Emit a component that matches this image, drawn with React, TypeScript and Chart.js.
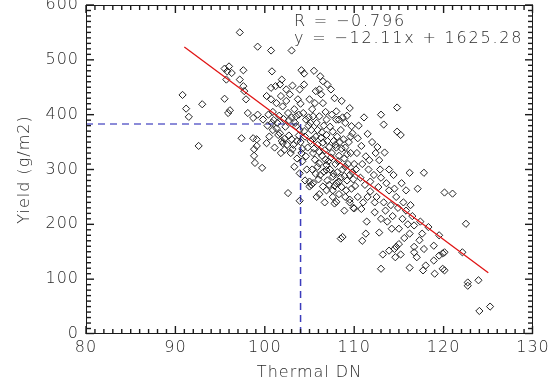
import React, { useEffect, useRef } from "react";
import { Chart, registerables } from "chart.js";

Chart.register(...registerables);

// ---- Data ----
// Samples grouped by Thermal DN band; each dn* array pairs with its yield* array.
const dn90s = [90.8, 91.2, 91.5, 93.0, 92.6];
const yield90s = [436, 411, 396, 419, 343];

const dn95s = [
  95.5, 95.8, 96.3, 95.7, 95.5, 95.9, 96.0, 96.1,
  97.2, 97.6, 97.2, 97.6, 97.7, 97.9, 98.1, 98.7,
  99.2, 99.8, 99.2, 97.4, 98.7, 99.1, 99.1, 98.8,
  98.8, 98.9, 99.7,
];
const yield95s = [
  484, 479, 476, 464, 429, 403, 488, 408,
  550, 481, 464, 452, 443, 428, 403, 394,
  400, 391, 524, 357, 357, 343, 355, 337,
  325, 312, 303,
];

const dn100s = [
  100.7, 103.0, 100.8, 101.9, 100.7, 101.2, 101.7, 102.4,
  100.2, 100.7, 101.3, 101.8, 104.1, 104.4, 103.1, 103.9,
  102.8, 103.7, 102.0, 102.6, 103.5, 104.3, 104.6, 100.9,
  101.5, 102.0, 103.9, 100.2, 101.7, 102.2, 103.1, 103.3,
  103.9, 102.6, 103.9, 104.6, 103.5, 104.4, 100.4, 101.0,
  101.4, 102.3, 102.7, 103.0, 101.9, 102.5, 102.9, 101.8,
  103.6, 104.0, 104.5, 104.8, 104.2, 100.5, 101.1, 104.7,
  104.5, 100.3, 102.1, 103.3, 104.0, 100.9, 101.6, 102.4,
  103.4, 104.9, 104.9, 102.2, 103.8, 104.2, 103.0, 103.8,
  102.7, 104.4, 103.6, 104.1, 103.2, 101.3, 100.8,
];
const yield100s = [
  517, 517, 479, 464, 449, 452, 455, 446,
  434, 428, 421, 434, 481, 475, 453, 446,
  437, 428, 415, 403, 397, 403, 391, 372,
  363, 348, 372, 348, 366, 336, 337, 305,
  293, 257, 243, 324, 379, 455, 400, 390,
  385, 378, 362, 355, 352, 345, 330, 330,
  320, 350, 360, 340, 315, 360, 340, 300,
  280, 380, 392, 410, 420, 405, 398, 425,
  385, 380, 395, 356, 362, 338, 395, 400,
  390, 370, 352, 330, 345, 375, 385,
];

const dn105s = [
  106.5, 105.7, 107.4, 106.1, 105.0, 105.6, 106.5, 108.0,
  109.5, 105.4, 106.1, 106.9, 108.0, 108.5, 109.7, 105.2,
  105.7, 106.9, 107.6, 105.0, 105.4, 105.0, 106.5, 106.9,
  107.6, 108.0, 105.4, 106.1, 106.9, 107.6, 108.0, 105.4,
  106.5, 107.2, 106.3, 108.3, 109.8, 105.2, 107.8, 108.5,
  108.7, 105.5, 106.2, 107.0, 107.8, 108.6, 109.2, 109.0,
  105.8, 106.6, 107.3, 108.1, 108.8, 109.4, 105.9, 106.7,
  107.5, 108.3, 109.0, 109.6, 105.6, 106.4, 107.1, 107.9,
  108.7, 109.3, 109.8, 105.3, 106.2, 107.0, 107.8, 108.5,
  109.2, 109.7, 105.8, 106.7, 108.3, 109.0, 109.5, 108.9,
  109.9, 108.4, 107.7, 106.3, 105.1, 106.8, 108.9, 109.5,
  107.3, 108.1, 105.7, 106.9, 108.6, 109.1, 106.1, 107.6,
  105.1, 105.9, 106.4, 107.0, 107.9, 108.6, 109.2, 105.5,
  106.1, 107.4, 108.2, 109.0, 105.9, 106.6, 107.7, 108.9,
  109.9, 106.0, 107.2, 108.3, 105.3, 106.8, 107.5, 108.7,
  109.6, 108.0, 109.5, 110.0,
];
const yield105s = [
  461, 443, 446, 446, 428, 421, 421, 406,
  412, 397, 397, 391, 391, 372, 379, 372,
  360, 363, 369, 278, 275, 269, 269, 262,
  250, 241, 330, 311, 299, 287, 275, 355,
  349, 341, 437, 391, 366, 272, 238, 174,
  177, 480, 470, 455, 430, 425, 398, 385,
  385, 380, 378, 360, 355, 350, 345, 335,
  330, 325, 340, 330, 318, 325, 315, 310,
  300, 310, 295, 300, 290, 280, 270, 285,
  280, 265, 250, 240, 255, 250, 240, 225,
  230, 350, 352, 358, 352, 318, 320, 290,
  300, 295, 292, 308, 268, 262, 255, 262,
  385, 372, 368, 352, 345, 338, 328, 338,
  332, 322, 315, 305, 305, 296, 292, 288,
  282, 282, 272, 278, 410, 405, 400, 395,
  360, 340, 245, 229,
];

const dn110s = [
  113.0, 114.8, 111.1, 113.3, 114.8, 115.2, 110.4, 110.8,
  112.6, 113.4, 113.9, 112.8, 111.7, 111.3, 111.3, 113.0,
  113.2, 113.9, 114.5, 114.7, 110.5, 111.5, 112.0, 112.4,
  110.3, 110.9, 111.6, 112.2, 113.0, 113.6, 114.4, 110.2,
  110.7, 111.2, 111.8, 112.5, 113.3, 114.1, 114.7, 110.4,
  111.0, 112.3, 113.0, 113.7, 114.3, 111.4, 112.8, 114.2,
  110.9, 114.6, 111.8, 112.7, 113.9, 110.1, 112.9, 110.8,
  112.3, 113.5, 114.5, 111.5, 114.9, 110.0,
];
const yield110s = [
  400, 413, 395, 382, 369, 363, 357, 343,
  341, 331, 300, 317, 317, 324, 183, 119,
  145, 152, 155, 159, 380, 365, 350, 330,
  330, 310, 300, 290, 285, 275, 290, 300,
  285, 272, 260, 250, 240, 235, 250, 250,
  240, 222, 210, 205, 215, 205, 185, 192,
  170, 140, 278, 268, 262, 270, 300, 228,
  240, 225, 265, 250, 230, 310,
];

const dn115s = [
  115.8, 117.1, 116.3, 116.7, 116.2, 116.7, 116.7, 117.8,
  117.3, 117.6, 116.2, 117.7, 118.9, 118.9, 119.5, 119.9,
  120.1, 119.5, 119.9, 120.1, 116.2, 117.8, 115.0, 115.0,
  115.5, 115.4, 115.8, 116.5, 117.4, 118.3, 115.3, 115.6,
  117.0, 118.0, 119.0, 115.2, 116.0,
];
const yield115s = [
  262, 265, 235, 198, 183, 159, 149, 155,
  171, 183, 121, 116, 161, 134, 143, 147,
  149, 180, 119, 116, 294, 294, 192, 164,
  240, 210, 225, 215, 205, 195, 275, 175,
  140, 125, 110, 145, 200,
];

const dn120s = [120.1, 121.0, 122.5, 122.1, 122.7, 122.7, 123.9, 124.0, 125.2];
const yield120s = [258, 256, 201, 149, 94, 88, 98, 42, 50];

// Least-squares fit printed on the chart
const fitSlope = -12.11;
const fitIntercept = 1625.28;
const fitR = -0.796;
const fitDNRange = [91, 125];

// Reference guide (blue dashed)
const guideDN = 104;
const guideYield = 383;

// Axes
const xRange = [80, 130];
const yRange = [0, 600];
const xMajorStep = 10;
const xMinorStep = 1;
const yMajorStep = 100;
const yMinorStep = 10;

const FONT = "'DejaVu Sans', 'Liberation Sans', sans-serif";
const INK = "#2a2a2a";

const fmtSigned = (v: number) => (v < 0 ? "\u2212" + Math.abs(v) : String(v));

const idlFrame = {
  id: "idlFrame",
  beforeLayout(chart: any) {
    chart.ctx.letterSpacing = "1px";
  },
  beforeDraw(chart: any) {
    chart.ctx.letterSpacing = "1px";
  },
  afterDraw(chart: any) {
    const ctx: CanvasRenderingContext2D = chart.ctx;
    const area = chart.chartArea;
    const L = Math.round(area.left);
    const R = Math.round(area.right) - 1;
    const T = Math.round(area.top);
    const B = Math.round(area.bottom) - 1;
    const xPix = (v: number) =>
      area.left + ((v - xRange[0]) / (xRange[1] - xRange[0])) * (area.right - area.left);
    const yPix = (v: number) =>
      area.bottom - ((v - yRange[0]) / (yRange[1] - yRange[0])) * (area.bottom - area.top);
    const TW = 1.4; // tick thickness

    ctx.save();
    ctx.setLineDash([]);
    ctx.globalAlpha = 1;
    ctx.fillStyle = "#1a1a1a";

    // frame
    ctx.fillRect(L, T, R - L + 1, 1);
    ctx.fillRect(L, B, R - L + 1, 1);
    ctx.fillRect(L, T, 1, B - T + 1);
    ctx.fillRect(R, T, 1, B - T + 1);

    // x ticks (bottom and top, pointing inward)
    const nx = Math.round((xRange[1] - xRange[0]) / xMinorStep);
    const perX = Math.round(xMajorStep / xMinorStep);
    for (let i = 0; i <= nx; i++) {
      const v = xRange[0] + i * xMinorStep;
      const len = i % perX === 0 ? 8 : 5;
      const px = Math.min(R + 0.5, xPix(v)) - TW / 2;
      ctx.fillRect(px, B - len + 1, TW, len);
      ctx.fillRect(px, T, TW, len);
    }
    // y ticks (left and right, pointing inward)
    const ny = Math.round((yRange[1] - yRange[0]) / yMinorStep);
    const perY = Math.round(yMajorStep / yMinorStep);
    for (let i = 0; i <= ny; i++) {
      const v = yRange[0] + i * yMinorStep;
      const len = i % perY === 0 ? 8 : 5;
      const py = Math.min(B + 0.5, yPix(v)) - TW / 2;
      ctx.fillRect(L, py, len, TW);
      ctx.fillRect(R - len + 1, py, len, TW);
    }

    // Fit annotation
    ctx.font = `200 16px ${FONT}`;
    ctx.letterSpacing = "1.8px";
    ctx.fillStyle = INK;
    ctx.textAlign = "left";
    ctx.textBaseline = "middle";
    const tx = area.left + 208;
    ctx.fillText(`R = ${fmtSigned(fitR)}`, tx, 22);
    ctx.fillText(`y = ${fmtSigned(fitSlope)}x + ${fitIntercept.toFixed(2)}`, tx, 39);
    ctx.restore();
  },
};

export default function App() {
  const canvasRef = useRef<HTMLCanvasElement | null>(null);

  useEffect(() => {
    const canvas = canvasRef.current;
    if (!canvas) return;

    const dn = [...dn90s, ...dn95s, ...dn100s, ...dn105s, ...dn110s, ...dn115s, ...dn120s];
    const yl = [...yield90s, ...yield95s, ...yield100s, ...yield105s, ...yield110s, ...yield115s, ...yield120s];
    const points = dn.map((x, i) => ({ x, y: yl[i] }));

    const fitLine = fitDNRange.map((x) => ({ x, y: fitSlope * x + fitIntercept }));
    const guideH = [
      { x: xRange[0], y: guideYield },
      { x: guideDN, y: guideYield },
    ];
    const guideV = [
      { x: guideDN, y: yRange[0] },
      { x: guideDN, y: guideYield },
    ];

    Chart.defaults.font.family = FONT;
    Chart.defaults.font.size = 16;
    Chart.defaults.color = INK;

    const tickFont = { size: 16, weight: "200" as any };

    const chart = new Chart(canvas, {
      type: "scatter",
      data: {
        datasets: [
          {
            label: "fit",
            data: fitLine,
            showLine: true,
            borderColor: "#e01414",
            borderWidth: 1.3,
            pointRadius: 0,
            fill: false,
            order: 0,
          } as any,
          {
            label: "samples",
            data: points,
            pointStyle: "rectRot",
            pointRadius: 3.6,
            borderColor: "#222",
            backgroundColor: "rgba(0,0,0,0)",
            borderWidth: 1,
            order: 1,
          } as any,
          {
            label: "guideH",
            data: guideH,
            showLine: true,
            borderColor: "#6666cc",
            borderWidth: 1.5,
            borderDash: [7, 5],
            pointRadius: 0,
            fill: false,
            order: 2,
          } as any,
          {
            label: "guideV",
            data: guideV,
            showLine: true,
            borderColor: "#3c3cbc",
            borderWidth: 1.5,
            borderDash: [7, 5],
            pointRadius: 0,
            fill: false,
            order: 2,
          } as any,
        ],
      },
      options: {
        responsive: false,
        animation: false,
        events: [],
        layout: { padding: { top: 5, right: 18, bottom: 0, left: 0 } },
        plugins: {
          legend: { display: false },
          tooltip: { enabled: false },
        },
        scales: {
          x: {
            type: "linear",
            min: xRange[0],
            max: xRange[1],
            ticks: { stepSize: xMajorStep, padding: 4, color: INK, font: tickFont },
            grid: { display: false, drawTicks: false },
            border: { display: false },
            title: {
              display: true,
              text: "Thermal DN",
              color: INK,
              font: tickFont,
              padding: { top: 0, bottom: 0 },
            },
            afterFit: (s: any) => {
              s.height = 48;
              s.paddingLeft = 0;
              s.paddingRight = 0;
            },
          },
          y: {
            type: "linear",
            min: yRange[0],
            max: yRange[1],
            ticks: { stepSize: yMajorStep, padding: 7, color: INK, font: tickFont },
            grid: { display: false, drawTicks: false },
            border: { display: false },
            title: {
              display: true,
              text: "Yield (g/m2)",
              color: INK,
              font: tickFont,
              padding: { top: 15, bottom: 0 },
            },
            afterFit: (s: any) => {
              s.width = 86;
              s.paddingTop = 0;
              s.paddingBottom = 0;
            },
          },
        },
      } as any,
      plugins: [idlFrame],
    });

    return () => chart.destroy();
  }, []);

  return (
    <div style={{ position: "absolute", left: 0, top: 0, width: 551, height: 382, background: "#fff" }}>
      <canvas ref={canvasRef} width={551} height={382} style={{ display: "block" }} />
    </div>
  );
}
